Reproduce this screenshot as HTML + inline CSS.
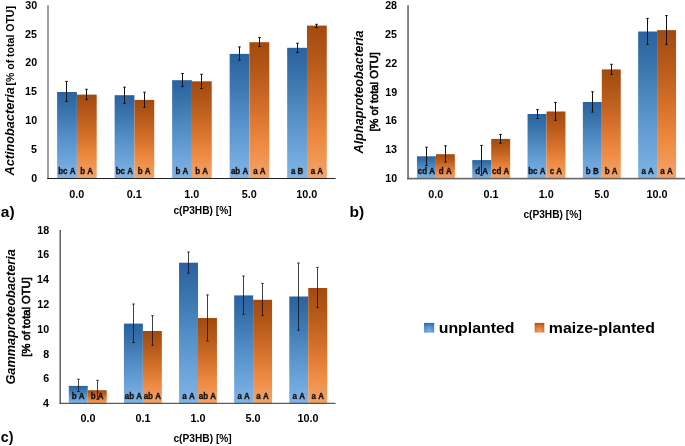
<!DOCTYPE html>
<html><head><meta charset="utf-8"><style>
html,body{margin:0;padding:0;background:#fff;width:685px;height:446px;overflow:hidden}
svg{display:block;will-change:transform;font-family:"Liberation Sans", sans-serif;font-kerning:none}
</style></head><body>
<svg width="685" height="446" viewBox="0 0 685 446">
<defs><linearGradient id="gb" x1="0" y1="0" x2="0" y2="1"><stop offset="0" stop-color="#2962a0"/><stop offset="0.25" stop-color="#3b76ae"/><stop offset="0.5" stop-color="#528dc6"/><stop offset="0.75" stop-color="#69a2d8"/><stop offset="1" stop-color="#82b4e4"/></linearGradient>
<linearGradient id="go" x1="0" y1="0" x2="0" y2="1"><stop offset="0" stop-color="#a24a0e"/><stop offset="0.25" stop-color="#b85b1b"/><stop offset="0.5" stop-color="#d5702b"/><stop offset="0.75" stop-color="#ee8a41"/><stop offset="1" stop-color="#f3a46a"/></linearGradient>
<radialGradient id="gl1" cx="0.5" cy="0.85" r="0.9"><stop offset="0" stop-color="#7cb0e2"/><stop offset="0.55" stop-color="#5690c8"/><stop offset="1" stop-color="#2c66a1"/></radialGradient>
<radialGradient id="gl2" cx="0.5" cy="0.85" r="0.9"><stop offset="0" stop-color="#f29d5f"/><stop offset="0.55" stop-color="#dc7733"/><stop offset="1" stop-color="#a94f12"/></radialGradient></defs>
<rect x="57.1" y="92" width="19.8" height="86.2" fill="url(#gb)"/>
<rect x="76.9" y="94.6" width="19.8" height="83.6" fill="url(#go)"/>
<rect x="114.62" y="95.2" width="19.8" height="83" fill="url(#gb)"/>
<rect x="134.42" y="99.9" width="19.8" height="78.3" fill="url(#go)"/>
<rect x="172.14" y="80.2" width="19.8" height="98" fill="url(#gb)"/>
<rect x="191.94" y="81.3" width="19.8" height="96.9" fill="url(#go)"/>
<rect x="229.66" y="53.9" width="19.8" height="124.3" fill="url(#gb)"/>
<rect x="249.46" y="42.2" width="19.8" height="136" fill="url(#go)"/>
<rect x="287.18" y="47.8" width="19.8" height="130.4" fill="url(#gb)"/>
<rect x="306.98" y="25.6" width="19.8" height="152.6" fill="url(#go)"/>
<text x="58.18" y="173.7" font-size="8.6" textLength="17.33" lengthAdjust="spacingAndGlyphs" font-weight="bold" fill="#111" stroke="#111" stroke-width="0.3">bc A</text>
<text x="80.2" y="173.7" font-size="8.6" textLength="12.88" lengthAdjust="spacingAndGlyphs" font-weight="bold" fill="#111" stroke="#111" stroke-width="0.3">b A</text>
<text x="115.7" y="173.7" font-size="8.6" textLength="17.33" lengthAdjust="spacingAndGlyphs" font-weight="bold" fill="#111" stroke="#111" stroke-width="0.3">bc A</text>
<text x="137.72" y="173.7" font-size="8.6" textLength="12.88" lengthAdjust="spacingAndGlyphs" font-weight="bold" fill="#111" stroke="#111" stroke-width="0.3">b A</text>
<text x="175.44" y="173.7" font-size="8.6" textLength="12.88" lengthAdjust="spacingAndGlyphs" font-weight="bold" fill="#111" stroke="#111" stroke-width="0.3">b A</text>
<text x="195.24" y="173.7" font-size="8.6" textLength="12.88" lengthAdjust="spacingAndGlyphs" font-weight="bold" fill="#111" stroke="#111" stroke-width="0.3">b A</text>
<text x="230.88" y="173.7" font-size="8.6" textLength="17.33" lengthAdjust="spacingAndGlyphs" font-weight="bold" fill="#111" stroke="#111" stroke-width="0.3">ab A</text>
<text x="253.13" y="173.7" font-size="8.6" textLength="12.45" lengthAdjust="spacingAndGlyphs" font-weight="bold" fill="#111" stroke="#111" stroke-width="0.3">a A</text>
<text x="290.92" y="173.7" font-size="8.6" textLength="12.45" lengthAdjust="spacingAndGlyphs" font-weight="bold" fill="#111" stroke="#111" stroke-width="0.3">a B</text>
<text x="310.65" y="173.7" font-size="8.6" textLength="12.45" lengthAdjust="spacingAndGlyphs" font-weight="bold" fill="#111" stroke="#111" stroke-width="0.3">a A</text>
<path d="M66.5 81.4V101.5M65.2 81.4h2.6M65.2 101.5h2.6" stroke="#111" stroke-width="1" fill="none"/>
<path d="M86.5 89.3V99.7M85.2 89.3h2.6M85.2 99.7h2.6" stroke="#111" stroke-width="1" fill="none"/>
<path d="M124.5 87.2V103.4M123.2 87.2h2.6M123.2 103.4h2.6" stroke="#111" stroke-width="1" fill="none"/>
<path d="M144.5 92.2V107.4M143.2 92.2h2.6M143.2 107.4h2.6" stroke="#111" stroke-width="1" fill="none"/>
<path d="M182.5 73.5V86.6M181.2 73.5h2.6M181.2 86.6h2.6" stroke="#111" stroke-width="1" fill="none"/>
<path d="M201.5 74.3V88.5M200.2 74.3h2.6M200.2 88.5h2.6" stroke="#111" stroke-width="1" fill="none"/>
<path d="M239.5 46.9V60.2M238.2 46.9h2.6M238.2 60.2h2.6" stroke="#111" stroke-width="1" fill="none"/>
<path d="M259.5 37.5V46.6M258.2 37.5h2.6M258.2 46.6h2.6" stroke="#111" stroke-width="1" fill="none"/>
<path d="M297.5 43.2V52.5M296.2 43.2h2.6M296.2 52.5h2.6" stroke="#111" stroke-width="1" fill="none"/>
<path d="M316.5 24.3V27.6M315.2 24.3h2.6M315.2 27.6h2.6" stroke="#111" stroke-width="1" fill="none"/>
<rect x="47.2" y="5.2" width="1.6" height="173.8" fill="#888"/>
<rect x="47.2" y="178" width="288.4" height="1" fill="#222"/>
<text x="31.19" y="182.15" font-size="10.7" textLength="5.95" lengthAdjust="spacingAndGlyphs" font-weight="bold" fill="#000" >0</text>
<text x="31.05" y="153.23" font-size="10.7" textLength="5.95" lengthAdjust="spacingAndGlyphs" font-weight="bold" fill="#000" >5</text>
<text x="25.24" y="124.31" font-size="10.7" textLength="11.9" lengthAdjust="spacingAndGlyphs" font-weight="bold" fill="#000" >10</text>
<text x="25.1" y="95.39" font-size="10.7" textLength="11.9" lengthAdjust="spacingAndGlyphs" font-weight="bold" fill="#000" >15</text>
<text x="25.24" y="66.47" font-size="10.7" textLength="11.9" lengthAdjust="spacingAndGlyphs" font-weight="bold" fill="#000" >20</text>
<text x="25.1" y="37.55" font-size="10.7" textLength="11.9" lengthAdjust="spacingAndGlyphs" font-weight="bold" fill="#000" >25</text>
<text x="25.24" y="8.63" font-size="10.7" textLength="11.9" lengthAdjust="spacingAndGlyphs" font-weight="bold" fill="#000" >30</text>
<text x="69.26" y="197.5" font-size="10.8" textLength="15.01" lengthAdjust="spacingAndGlyphs" font-weight="bold" fill="#000" >0.0</text>
<text x="126.71" y="197.5" font-size="10.8" textLength="15.01" lengthAdjust="spacingAndGlyphs" font-weight="bold" fill="#000" >0.1</text>
<text x="184.17" y="197.5" font-size="10.8" textLength="15.01" lengthAdjust="spacingAndGlyphs" font-weight="bold" fill="#000" >1.0</text>
<text x="241.87" y="197.5" font-size="10.8" textLength="15.01" lengthAdjust="spacingAndGlyphs" font-weight="bold" fill="#000" >5.0</text>
<text x="296.21" y="197.5" font-size="10.8" textLength="21.02" lengthAdjust="spacingAndGlyphs" font-weight="bold" fill="#000" >10.0</text>
<rect x="416.95" y="156.3" width="18.95" height="22.3" fill="url(#gb)"/>
<rect x="435.9" y="154.2" width="18.95" height="24.4" fill="url(#go)"/>
<rect x="472.25" y="160.1" width="18.95" height="18.5" fill="url(#gb)"/>
<rect x="491.2" y="138.9" width="18.95" height="39.7" fill="url(#go)"/>
<rect x="527.55" y="114" width="18.95" height="64.6" fill="url(#gb)"/>
<rect x="546.5" y="111.5" width="18.95" height="67.1" fill="url(#go)"/>
<rect x="582.85" y="102" width="18.95" height="76.6" fill="url(#gb)"/>
<rect x="601.8" y="69.4" width="18.95" height="109.2" fill="url(#go)"/>
<rect x="638.15" y="31.5" width="18.95" height="147.1" fill="url(#gb)"/>
<rect x="657.1" y="30.1" width="18.95" height="148.5" fill="url(#go)"/>
<text x="417.71" y="174.3" font-size="8.6" textLength="17.33" lengthAdjust="spacingAndGlyphs" font-weight="bold" fill="#111" stroke="#111" stroke-width="0.3">cd A</text>
<text x="438.87" y="174.3" font-size="8.6" textLength="12.88" lengthAdjust="spacingAndGlyphs" font-weight="bold" fill="#111" stroke="#111" stroke-width="0.3">d A</text>
<text x="475.22" y="174.3" font-size="8.6" textLength="12.88" lengthAdjust="spacingAndGlyphs" font-weight="bold" fill="#111" stroke="#111" stroke-width="0.3">d A</text>
<text x="491.96" y="174.3" font-size="8.6" textLength="17.33" lengthAdjust="spacingAndGlyphs" font-weight="bold" fill="#111" stroke="#111" stroke-width="0.3">cd A</text>
<text x="528.2" y="174.3" font-size="8.6" textLength="17.33" lengthAdjust="spacingAndGlyphs" font-weight="bold" fill="#111" stroke="#111" stroke-width="0.3">bc A</text>
<text x="549.7" y="174.3" font-size="8.6" textLength="12.45" lengthAdjust="spacingAndGlyphs" font-weight="bold" fill="#111" stroke="#111" stroke-width="0.3">c A</text>
<text x="585.8" y="174.3" font-size="8.6" textLength="12.88" lengthAdjust="spacingAndGlyphs" font-weight="bold" fill="#111" stroke="#111" stroke-width="0.3">b B</text>
<text x="604.68" y="174.3" font-size="8.6" textLength="12.88" lengthAdjust="spacingAndGlyphs" font-weight="bold" fill="#111" stroke="#111" stroke-width="0.3">b A</text>
<text x="641.39" y="174.3" font-size="8.6" textLength="12.45" lengthAdjust="spacingAndGlyphs" font-weight="bold" fill="#111" stroke="#111" stroke-width="0.3">a A</text>
<text x="660.34" y="174.3" font-size="8.6" textLength="12.45" lengthAdjust="spacingAndGlyphs" font-weight="bold" fill="#111" stroke="#111" stroke-width="0.3">a A</text>
<path d="M426.5 147.2V165.5M425.2 147.2h2.6M425.2 165.5h2.6" stroke="#111" stroke-width="1" fill="none"/>
<path d="M445.5 145.8V162M444.2 145.8h2.6M444.2 162h2.6" stroke="#111" stroke-width="1" fill="none"/>
<path d="M481.5 145.4V175.2M480.2 145.4h2.6M480.2 175.2h2.6" stroke="#111" stroke-width="1" fill="none"/>
<path d="M500.5 134.4V143.3M499.2 134.4h2.6M499.2 143.3h2.6" stroke="#111" stroke-width="1" fill="none"/>
<path d="M537.5 109.6V118.5M536.2 109.6h2.6M536.2 118.5h2.6" stroke="#111" stroke-width="1" fill="none"/>
<path d="M555.5 102.4V120.3M554.2 102.4h2.6M554.2 120.3h2.6" stroke="#111" stroke-width="1" fill="none"/>
<path d="M592.5 91.8V112.1M591.2 91.8h2.6M591.2 112.1h2.6" stroke="#111" stroke-width="1" fill="none"/>
<path d="M611.5 64.3V74.4M610.2 64.3h2.6M610.2 74.4h2.6" stroke="#111" stroke-width="1" fill="none"/>
<path d="M647.5 18.4V44.4M646.2 18.4h2.6M646.2 44.4h2.6" stroke="#111" stroke-width="1" fill="none"/>
<path d="M666.5 15.6V44.4M665.2 15.6h2.6M665.2 44.4h2.6" stroke="#111" stroke-width="1" fill="none"/>
<rect x="407.2" y="5.2" width="1.7" height="174.2" fill="#707070"/>
<rect x="407.2" y="177.8" width="277.8" height="1.6" fill="#666"/>
<text x="385.24" y="182.35" font-size="10.7" textLength="11.9" lengthAdjust="spacingAndGlyphs" font-weight="bold" fill="#000" >10</text>
<text x="385.18" y="153.4" font-size="10.7" textLength="11.9" lengthAdjust="spacingAndGlyphs" font-weight="bold" fill="#000" >13</text>
<text x="385.18" y="124.45" font-size="10.7" textLength="11.9" lengthAdjust="spacingAndGlyphs" font-weight="bold" fill="#000" >16</text>
<text x="385.2" y="95.5" font-size="10.7" textLength="11.9" lengthAdjust="spacingAndGlyphs" font-weight="bold" fill="#000" >19</text>
<text x="385.23" y="66.55" font-size="10.7" textLength="11.9" lengthAdjust="spacingAndGlyphs" font-weight="bold" fill="#000" >22</text>
<text x="385.1" y="37.6" font-size="10.7" textLength="11.9" lengthAdjust="spacingAndGlyphs" font-weight="bold" fill="#000" >25</text>
<text x="385.13" y="8.65" font-size="10.7" textLength="11.9" lengthAdjust="spacingAndGlyphs" font-weight="bold" fill="#000" >28</text>
<text x="428.35" y="197.8" font-size="10.8" textLength="15.01" lengthAdjust="spacingAndGlyphs" font-weight="bold" fill="#000" >0.0</text>
<text x="483.58" y="197.8" font-size="10.8" textLength="15.01" lengthAdjust="spacingAndGlyphs" font-weight="bold" fill="#000" >0.1</text>
<text x="538.82" y="197.8" font-size="10.8" textLength="15.01" lengthAdjust="spacingAndGlyphs" font-weight="bold" fill="#000" >1.0</text>
<text x="594.3" y="197.8" font-size="10.8" textLength="15.01" lengthAdjust="spacingAndGlyphs" font-weight="bold" fill="#000" >5.0</text>
<text x="646.42" y="197.8" font-size="10.8" textLength="21.02" lengthAdjust="spacingAndGlyphs" font-weight="bold" fill="#000" >10.0</text>
<rect x="68.8" y="385.9" width="18.95" height="17.5" fill="url(#gb)"/>
<rect x="87.75" y="390.2" width="18.95" height="13.2" fill="url(#go)"/>
<rect x="123.92" y="323.6" width="18.95" height="79.8" fill="url(#gb)"/>
<rect x="142.87" y="331" width="18.95" height="72.4" fill="url(#go)"/>
<rect x="179.04" y="262.7" width="18.95" height="140.7" fill="url(#gb)"/>
<rect x="197.99" y="318" width="18.95" height="85.4" fill="url(#go)"/>
<rect x="234.16" y="295.4" width="18.95" height="108" fill="url(#gb)"/>
<rect x="253.11" y="299.8" width="18.95" height="103.6" fill="url(#go)"/>
<rect x="289.28" y="296.5" width="18.95" height="106.9" fill="url(#gb)"/>
<rect x="308.23" y="288" width="18.95" height="115.4" fill="url(#go)"/>
<text x="71.68" y="398.8" font-size="8.6" textLength="12.88" lengthAdjust="spacingAndGlyphs" font-weight="bold" fill="#111" stroke="#111" stroke-width="0.3">b A</text>
<text x="90.63" y="398.8" font-size="8.6" textLength="12.88" lengthAdjust="spacingAndGlyphs" font-weight="bold" fill="#111" stroke="#111" stroke-width="0.3">b A</text>
<text x="124.72" y="398.8" font-size="8.6" textLength="17.33" lengthAdjust="spacingAndGlyphs" font-weight="bold" fill="#111" stroke="#111" stroke-width="0.3">ab A</text>
<text x="143.67" y="398.8" font-size="8.6" textLength="17.33" lengthAdjust="spacingAndGlyphs" font-weight="bold" fill="#111" stroke="#111" stroke-width="0.3">ab A</text>
<text x="182.28" y="398.8" font-size="8.6" textLength="12.45" lengthAdjust="spacingAndGlyphs" font-weight="bold" fill="#111" stroke="#111" stroke-width="0.3">a A</text>
<text x="198.79" y="398.8" font-size="8.6" textLength="17.33" lengthAdjust="spacingAndGlyphs" font-weight="bold" fill="#111" stroke="#111" stroke-width="0.3">ab A</text>
<text x="237.4" y="398.8" font-size="8.6" textLength="12.45" lengthAdjust="spacingAndGlyphs" font-weight="bold" fill="#111" stroke="#111" stroke-width="0.3">a A</text>
<text x="256.35" y="398.8" font-size="8.6" textLength="12.45" lengthAdjust="spacingAndGlyphs" font-weight="bold" fill="#111" stroke="#111" stroke-width="0.3">a A</text>
<text x="292.52" y="398.8" font-size="8.6" textLength="12.45" lengthAdjust="spacingAndGlyphs" font-weight="bold" fill="#111" stroke="#111" stroke-width="0.3">a A</text>
<text x="311.47" y="398.8" font-size="8.6" textLength="12.45" lengthAdjust="spacingAndGlyphs" font-weight="bold" fill="#111" stroke="#111" stroke-width="0.3">a A</text>
<path d="M78.5 379.2V391.5M77.2 379.2h2.6M77.2 391.5h2.6" stroke="#111" stroke-width="0.8" fill="none"/>
<path d="M97.5 380.3V399.4M96.2 380.3h2.6M96.2 399.4h2.6" stroke="#111" stroke-width="0.8" fill="none"/>
<path d="M133.5 304V342.5M132.2 304h2.6M132.2 342.5h2.6" stroke="#111" stroke-width="0.8" fill="none"/>
<path d="M152.5 315.7V345.3M151.2 315.7h2.6M151.2 345.3h2.6" stroke="#111" stroke-width="0.8" fill="none"/>
<path d="M188.5 252V273.2M187.2 252h2.6M187.2 273.2h2.6" stroke="#111" stroke-width="0.8" fill="none"/>
<path d="M207.5 294.9V341M206.2 294.9h2.6M206.2 341h2.6" stroke="#111" stroke-width="0.8" fill="none"/>
<path d="M243.5 276V314.4M242.2 276h2.6M242.2 314.4h2.6" stroke="#111" stroke-width="0.8" fill="none"/>
<path d="M262.5 283.4V315.6M261.2 283.4h2.6M261.2 315.6h2.6" stroke="#111" stroke-width="0.8" fill="none"/>
<path d="M298.5 263V330.2M297.2 263h2.6M297.2 330.2h2.6" stroke="#111" stroke-width="0.8" fill="none"/>
<path d="M317.5 267.4V307.6M316.2 267.4h2.6M316.2 307.6h2.6" stroke="#111" stroke-width="0.8" fill="none"/>
<rect x="59.5" y="230" width="1.4" height="173.8" fill="#555"/>
<rect x="59.5" y="402.8" width="276.1" height="1" fill="#333"/>
<text x="42.91" y="407.15" font-size="10.7" textLength="5.95" lengthAdjust="spacingAndGlyphs" font-weight="bold" fill="#000" >4</text>
<text x="43.24" y="382.35" font-size="10.7" textLength="5.95" lengthAdjust="spacingAndGlyphs" font-weight="bold" fill="#000" >6</text>
<text x="43.18" y="357.55" font-size="10.7" textLength="5.95" lengthAdjust="spacingAndGlyphs" font-weight="bold" fill="#000" >8</text>
<text x="37.34" y="332.75" font-size="10.7" textLength="11.9" lengthAdjust="spacingAndGlyphs" font-weight="bold" fill="#000" >10</text>
<text x="37.33" y="307.95" font-size="10.7" textLength="11.9" lengthAdjust="spacingAndGlyphs" font-weight="bold" fill="#000" >12</text>
<text x="36.96" y="283.15" font-size="10.7" textLength="11.9" lengthAdjust="spacingAndGlyphs" font-weight="bold" fill="#000" >14</text>
<text x="37.28" y="258.35" font-size="10.7" textLength="11.9" lengthAdjust="spacingAndGlyphs" font-weight="bold" fill="#000" >16</text>
<text x="37.23" y="233.55" font-size="10.7" textLength="11.9" lengthAdjust="spacingAndGlyphs" font-weight="bold" fill="#000" >18</text>
<text x="80.51" y="422.2" font-size="10.8" textLength="15.01" lengthAdjust="spacingAndGlyphs" font-weight="bold" fill="#000" >0.0</text>
<text x="135.46" y="422.2" font-size="10.8" textLength="15.01" lengthAdjust="spacingAndGlyphs" font-weight="bold" fill="#000" >0.1</text>
<text x="190.42" y="422.2" font-size="10.8" textLength="15.01" lengthAdjust="spacingAndGlyphs" font-weight="bold" fill="#000" >1.0</text>
<text x="245.62" y="422.2" font-size="10.8" textLength="15.01" lengthAdjust="spacingAndGlyphs" font-weight="bold" fill="#000" >5.0</text>
<text x="297.46" y="422.2" font-size="10.8" textLength="21.02" lengthAdjust="spacingAndGlyphs" font-weight="bold" fill="#000" >10.0</text>
<text x="173.4" y="214" font-size="11" textLength="58.17" lengthAdjust="spacingAndGlyphs" fill="#000" ><tspan style="font-weight:bold;">c(P3HB) [%]</tspan></text>
<text x="523.4" y="217.8" font-size="11" textLength="58.17" lengthAdjust="spacingAndGlyphs" fill="#000" ><tspan style="font-weight:bold;">c(P3HB) [%]</tspan></text>
<text x="173.4" y="442.2" font-size="11" textLength="58.37" lengthAdjust="spacingAndGlyphs" fill="#000" ><tspan style="font-weight:bold;">c(P3HB) [%]</tspan></text>
<text x="0.74" y="217" font-size="15.2" textLength="13.83" lengthAdjust="spacingAndGlyphs" fill="#000" ><tspan style="font-weight:bold;">a)</tspan></text>
<text x="349.47" y="216.9" font-size="15.2" textLength="14.7" lengthAdjust="spacingAndGlyphs" fill="#000" ><tspan style="font-weight:bold;">b)</tspan></text>
<text x="0.84" y="441.6" font-size="15.2" textLength="12.67" lengthAdjust="spacingAndGlyphs" fill="#000" ><tspan style="font-weight:bold;">c)</tspan></text>
<text transform="translate(14.3 175.8) rotate(-90)" x="0.26" y="0" font-size="13" textLength="88.31" lengthAdjust="spacingAndGlyphs" fill="#000" ><tspan style="font-weight:bold;font-style:italic;">Actinobacteria</tspan></text>
<text transform="translate(14.2 84.9) rotate(-90)" x="-0.59" y="0" font-size="11.3" textLength="79.38" lengthAdjust="spacingAndGlyphs" fill="#000" ><tspan style="font-weight:bold;">[% of total OTU]</tspan></text>
<text transform="translate(362.9 153.7) rotate(-90)" x="0.26" y="0" font-size="13" textLength="123.11" lengthAdjust="spacingAndGlyphs" fill="#000" ><tspan style="font-weight:bold;font-style:italic;">Alphaproteobacteria</tspan></text>
<text transform="translate(378.3 130.8) rotate(-90)" x="-0.8" y="0" font-size="11.3" textLength="79.39" lengthAdjust="spacingAndGlyphs" fill="#000" stroke="#000" stroke-width="0.65"><tspan style="font-weight:normal;">[% of total OTU]</tspan></text>
<text transform="translate(14.9 384) rotate(-90)" x="-0.62" y="0" font-size="13" textLength="135.5" lengthAdjust="spacingAndGlyphs" fill="#000" ><tspan style="font-weight:bold;font-style:italic;">Gammaproteobacteria</tspan></text>
<text transform="translate(29.8 355.9) rotate(-90)" x="-0.8" y="0" font-size="11.3" textLength="79.49" lengthAdjust="spacingAndGlyphs" fill="#000" stroke="#000" stroke-width="0.65"><tspan style="font-weight:normal;">[% of total OTU]</tspan></text>
<rect x="424.1" y="322.9" width="10.1" height="9.7" fill="url(#gl1)"/>
<rect x="534.7" y="322.9" width="9.6" height="9.6" fill="url(#gl2)"/>
<text x="438.72" y="332.5" font-size="14.6" textLength="75.73" lengthAdjust="spacingAndGlyphs" fill="#000" ><tspan style="font-weight:bold;">unplanted</tspan></text>
<text x="548.85" y="332.5" font-size="14.6" textLength="106" lengthAdjust="spacingAndGlyphs" fill="#000" ><tspan style="font-weight:bold;">maize-planted</tspan></text>
</svg>
</body></html>
